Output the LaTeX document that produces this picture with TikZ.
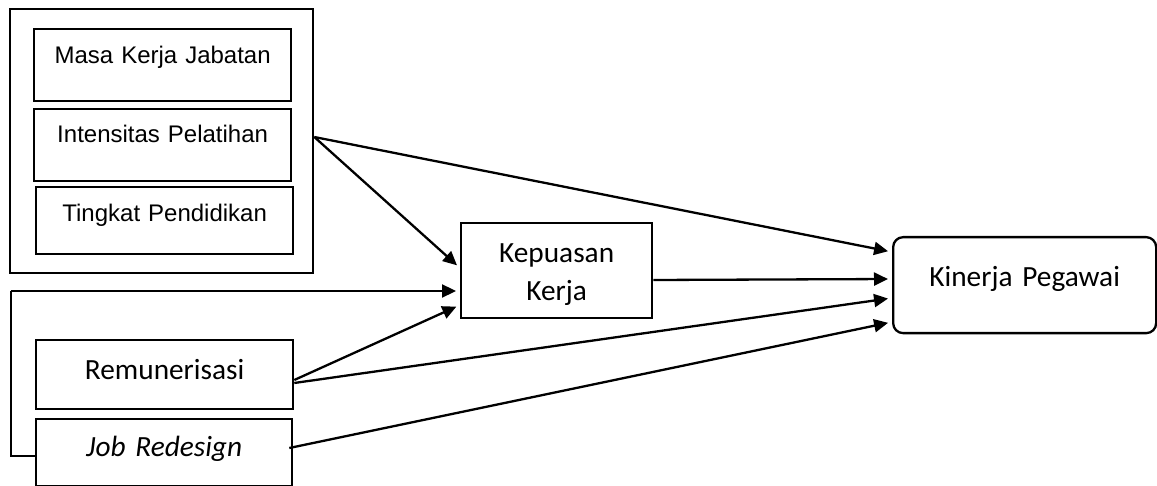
\documentclass[tikz,border=0pt]{standalone}
\usepackage{fontspec}
\newfontfamily\arialf{Liberation Sans}
\newfontfamily\calf{Carlito}
\usetikzlibrary{arrows.meta}

\tikzset{
  frame/.style={draw, line width=2.3pt, inner sep=0pt, anchor=north west},
  abox/.style={frame, align=center, font=\arialf\fontsize{24}{28}\selectfont},
  cbox/.style={frame, align=center, font=\calf\fontsize{29.3}{38}\selectfont},
  ctext/.style={align=center, inner sep=0pt, font=\calf\fontsize{29.3}{38.5}\selectfont},
  arr/.style={line width=2.3pt, -{Triangle[length=14pt,width=13pt]}, shorten >=4pt},
  thinl/.style={line width=1.1pt},
}

\begin{document}
\begin{tikzpicture}[x=1pt,y=-1pt]
\useasboundingbox (0,0) rectangle (1157,486);

% group of the three individual characteristics
\node[frame, minimum width=303pt, minimum height=264pt] (grpA) at (9,8) {};
\node[abox, text width=257pt, text height=34pt, text depth=38pt] (mk) at (33,28) {Masa Kerja Jabatan};
\node[abox, text width=257pt, text height=33pt, text depth=39pt] (ip) at (33,108) {Intensitas Pelatihan};
\node[abox, text width=257pt, text height=34pt, text depth=33pt] (tp) at (35,186) {Tingkat Pendidikan};

% remuneration and job redesign
\node[cbox, text width=257pt, text height=39pt, text depth=30pt] (rem) at (35,339) {Remunerisasi};
\node[cbox, text width=256pt, text height=37pt, text depth=30pt] (job) at (35,418) {\itshape Job Redesign};

% mediator and outcome
\node[frame, minimum width=191pt, minimum height=95pt] (kp) at (460,222) {};
\node[ctext] (kptext) at ([yshift=-4pt]kp.center) {Kepuasan\\Kerja};
\node[cbox, rounded corners=10pt, text width=263pt, text height=49pt, text depth=47pt] (kin) at (892,236) {Kinerja Pegawai};

% thin bracket round the second group
\coordinate (grpB) at (11,291);
\draw[thinl] ([yshift=-38pt]job.north west) -| (grpB);

% connectors
\coordinate (ipout) at ([yshift=-129pt]grpA.north east);
\draw[arr] (ipout) -- ([yshift=-16pt]kin.north west);
\draw[arr] (ipout) -- ([yshift=-46pt]kp.north west);
\draw[arr] ([xshift=-0.5pt]grpB) -- ([yshift=-69pt]kp.north west);
\draw[arr] ([yshift=-41pt]rem.north east) -- ([yshift=-83pt]kp.north west);
\draw[arr] ([yshift=-58pt]kp.north east) -- ([yshift=-43pt]kin.north west);
\draw[arr] ([yshift=-44pt]rem.north east) -- ([yshift=-62pt]kin.north west);
\draw[arr] ([xshift=-4pt,yshift=-30pt]job.north east) -- ([yshift=-86pt]kin.north west);
\end{tikzpicture}
\end{document}
